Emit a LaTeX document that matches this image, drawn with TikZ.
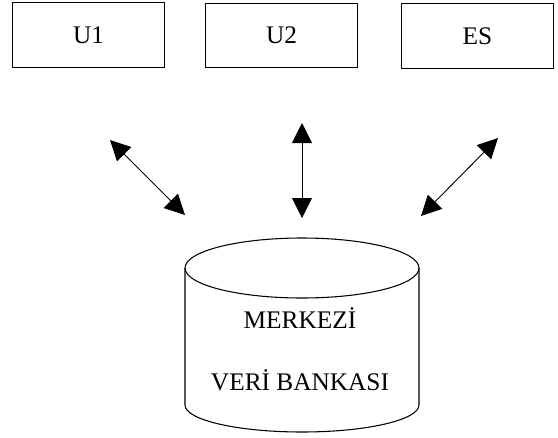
\documentclass[tikz,border=0pt]{standalone}
\usepackage{fontspec}
\setmainfont{Liberation Serif}
\usetikzlibrary{arrows.meta}
\begin{document}
\begin{tikzpicture}[x=0.75pt,y=-0.75pt,
  txt/.style={font=\fontsize{19}{22}\selectfont},
  box/.style={draw,line width=0.8pt,minimum width=114pt,minimum height=48.5pt,txt},
  link/.style={line width=0.7pt,
    {Triangle[length=15pt,width=15pt]}-{Triangle[length=15pt,width=15pt]}}]
\useasboundingbox (0,0) rectangle (558,437);

% the three client boxes
\node[box] (u1) at (88.5,35) {U1};
\node[box] (u2) at (281.5,35.5) {U2};
\node[box] (es) at (477.5,36) {ES};

% central database cylinder
\draw[line width=0.8pt] (302,268) ellipse [x radius=117, y radius=30];
\draw[line width=0.8pt] (185,268) -- (185,405)
  arc[start angle=180, end angle=0, x radius=117, y radius=27] -- (419,268);
\node[txt] (db1) at (300,318) {MERKEZİ};
\node[txt] (db2) at (300,380) {VERİ BANKASI};

% connector end points
\coordinate (a1) at (110,140);
\coordinate (b1) at (185,215);
\coordinate (a2) at (302,123);
\coordinate (b2) at (302,218);
\coordinate (a3) at (498,138);
\coordinate (b3) at (421,216);

\draw[link] (a1) -- (b1);
\draw[link] (a2) -- (b2);
\draw[link] (a3) -- (b3);
\end{tikzpicture}
\end{document}
